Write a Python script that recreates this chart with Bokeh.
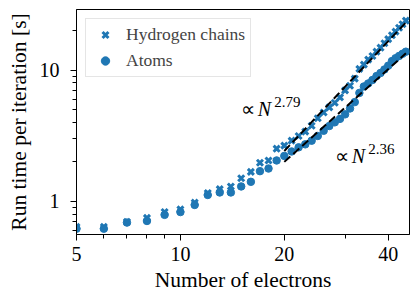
from bokeh.plotting import figure
from bokeh.models import Range1d, FixedTicker, PrintfTickFormatter, Label
from bokeh.embed import file_html
from bokeh.resources import INLINE

# ---- data ----
n_electrons = [5, 6, 7, 8, 9, 10, 11, 12, 13, 14, 15, 16, 17, 18, 19, 20, 21, 22, 23, 24, 25,
               26, 27, 28, 29, 30, 31, 32, 33, 34, 35, 36, 37, 38, 39, 40, 41, 42, 43, 44, 45]
t_hydrogen = [0.64, 0.64, 0.70, 0.75, 0.83, 0.87, 0.98, 1.16, 1.24, 1.30, 1.50, 1.68, 1.97, 2.05,
              2.52, 2.66, 2.90, 3.15, 3.40, 3.77, 4.30, 4.75, 5.20, 5.64, 6.20, 7.00, 7.60, 8.60,
              10.2, 11.0, 12.0, 12.8, 13.8, 14.8, 16.0, 17.2, 18.4, 19.6, 21.0, 22.3, 23.8]
t_atoms = [0.62, 0.62, 0.69, 0.71, 0.79, 0.83, 0.94, 1.12, 1.17, 1.17, 1.30, 1.41, 1.70, 1.78,
           2.05, 2.22, 2.40, 2.58, 2.72, 2.90, 3.15, 3.45, 3.75, 4.00, 4.25, 4.60, 5.10, 5.70,
           6.70, 7.50, 7.90, 8.40, 9.00, 9.50, 10.1, 10.8, 11.7, 12.3, 12.8, 13.3, 13.8]
fit_n = [20, 45]
fit_hydrogen = [2.42, 23.0]
fit_atoms = [2.0, 13.4]
x_ticks = [5, 10, 20, 40]
x_minor_ticks = [6, 7, 8, 9, 30]
y_ticks = [1, 10]
y_minor_ticks = [0.5, 0.6, 0.7, 0.8, 0.9, 2, 3, 4, 5, 6, 7, 8, 9, 20]
series_labels = ["Hydrogen chains", "Atoms"]
x_title = "Number of electrons"
y_title = "Run time per iteration [s]"

BLUE = "#1f77b4"
SERIF = "Times New Roman"

p = figure(width=412, height=294, x_axis_type="log", y_axis_type="log",
           x_range=Range1d(5, 46.1), y_range=Range1d(0.56, 28.9),
           output_backend="svg", toolbar_location=None,
           min_border_left=76, min_border_right=3, min_border_top=9, min_border_bottom=58)

p.background_fill_color = "white"
p.border_fill_color = "white"
p.outline_line_color = "black"
p.outline_line_width = 1
p.grid.visible = False

p.scatter(n_electrons, t_hydrogen, marker="x", size=8.5, line_width=3, color=BLUE,
          legend_label=series_labels[0])
p.scatter(n_electrons, t_atoms, marker="circle", size=7.5, color=BLUE,
          legend_label=series_labels[1])

p.line(fit_n, fit_hydrogen, line_color="black", line_width=2, line_dash="8 4")
p.line(fit_n, fit_atoms, line_color="black", line_width=2, line_dash="8 4")

p.xaxis.ticker = FixedTicker(ticks=x_ticks, minor_ticks=x_minor_ticks)
p.yaxis.ticker = FixedTicker(ticks=y_ticks, minor_ticks=y_minor_ticks)
p.xaxis.formatter = PrintfTickFormatter(format="%d")
p.yaxis.formatter = PrintfTickFormatter(format="%d")

for ax in (p.xaxis, p.yaxis):
    ax.major_tick_out = 6
    ax.major_tick_in = 0
    ax.minor_tick_out = 4
    ax.minor_tick_in = 0
    ax.axis_line_color = "black"
    ax.major_tick_line_color = "black"
    ax.minor_tick_line_color = "black"
    ax.major_label_text_font = SERIF
    ax.major_label_text_font_size = "20px"
    ax.major_label_text_font_style = "normal"
    ax.major_label_text_color = "black"
    ax.axis_label_text_font = SERIF
    ax.axis_label_text_font_size = "21.5px"
    ax.axis_label_text_font_style = "normal"
    ax.axis_label_text_color = "black"

p.xaxis.axis_label = x_title
p.yaxis.axis_label = y_title
p.xaxis.major_label_standoff = 6
p.xaxis.axis_label_standoff = 4
p.yaxis.major_label_standoff = 11
p.yaxis.axis_label_standoff = 6

lg = p.legend[0]
lg.location = "top_left"
lg.margin = 9
lg.padding = 5
lg.spacing = 5
lg.glyph_width = 28
lg.glyph_height = 21
lg.label_height = 21
lg.label_standoff = 7
lg.label_text_font = SERIF
lg.label_text_font_size = "17.5px"
lg.label_text_font_style = "normal"
lg.border_line_color = "#cccccc"
lg.border_line_width = 1
lg.background_fill_color = "white"
lg.background_fill_alpha = 0.8

def add_power_label(xv, yv, exponent):
    p.add_layout(Label(x=xv, y=yv, text="\u221d", text_font=SERIF, text_font_size="20px",
                       text_baseline="alphabetic", text_align="left", text_color="black"))
    p.add_layout(Label(x=xv, y=yv, x_offset=16.5, text="N", text_font=SERIF,
                       text_font_size="20px", text_font_style="italic",
                       text_baseline="alphabetic", text_align="left", text_color="black"))
    p.add_layout(Label(x=xv, y=yv, x_offset=33, y_offset=7, text=exponent, text_font=SERIF,
                       text_font_size="15px", text_font_style="normal",
                       text_baseline="alphabetic", text_align="left", text_color="black"))

add_power_label(15.0, 5.03, "2.79")
add_power_label(28.1, 2.23, "2.36")

open("out.html", "w").write(file_html(p, INLINE))
